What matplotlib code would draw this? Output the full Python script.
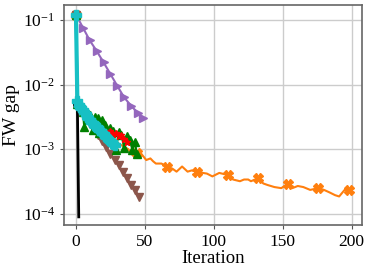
import matplotlib
matplotlib.use("Agg")
import matplotlib.pyplot as plt

# ---- data (iteration, FW gap) ----
black_x = [0, 1, 2]
black_y = [1.2e-1, 5.0e-3, 9.0e-5]

orange_x = [0, 1, 3, 6, 10, 14, 18, 22, 26, 30, 34, 38, 41, 44, 47, 51, 54, 56, 58, 62,
            66, 70, 73, 77, 81, 84, 88, 92, 95, 99, 104, 110, 114, 119, 122, 125, 127, 132,
            136, 139, 144, 149, 154, 157, 161, 165, 170, 176, 180, 184, 188, 191, 195, 198, 199]
orange_y = [1.2e-1, 5.0e-3, 4.0e-3, 3.2e-3, 2.6e-3, 2.3e-3, 2.0e-3, 1.8e-3, 1.6e-3, 1.26e-3,
            1.12e-3, 1.0e-3, 8.1e-4, 8.7e-4, 8.7e-4, 6.8e-4, 7.2e-4, 6.5e-4, 6.0e-4, 6.0e-4,
            5.4e-4, 5.0e-4, 4.5e-4, 5.4e-4, 4.5e-4, 4.7e-4, 4.5e-4, 4.3e-4, 4.2e-4, 3.8e-4,
            4.3e-4, 4.0e-4, 3.4e-4, 3.2e-4, 3.4e-4, 3.4e-4, 3.2e-4, 3.55e-4, 2.95e-4, 2.8e-4,
            2.6e-4, 2.5e-4, 2.95e-4, 2.5e-4, 2.7e-4, 2.6e-4, 2.35e-4, 2.5e-4, 2.35e-4, 2.15e-4,
            1.95e-4, 1.86e-4, 2.35e-4, 2.3e-4, 2.3e-4]
orange_marks = [0, 22, 44, 66, 88, 110, 132, 154, 176, 198]

green_x = [0, 1, 3, 5, 6, 8, 10, 12, 14, 16, 17, 19, 21, 23, 25, 27, 29, 31, 33, 35, 37, 39, 41, 43, 44]
green_y = [1.2e-1, 5.0e-3, 4.4e-3, 3.8e-3, 2.2e-3, 3.5e-3, 3.4e-3, 1.95e-3, 3.2e-3, 3.0e-3,
           1.8e-3, 2.8e-3, 2.4e-3, 1.5e-3, 2.1e-3, 1.9e-3, 9.8e-4, 1.85e-3, 1.65e-3, 1.05e-3,
           1.6e-3, 1.38e-3, 9.8e-4, 1.3e-3, 8.3e-4]

red_x = [0, 1, 3, 5, 7, 9, 11, 13, 15, 17, 19, 21, 23, 25, 27, 29, 31, 33, 35, 37]
red_y = [1.2e-1, 5.2e-3, 4.3e-3, 3.8e-3, 3.3e-3, 2.95e-3, 2.65e-3, 2.4e-3, 2.2e-3, 2.05e-3,
         1.9e-3, 1.8e-3, 1.75e-3, 1.9e-3, 1.7e-3, 1.8e-3, 1.6e-3, 1.65e-3, 1.45e-3, 1.3e-3]

brown_x = [0, 1, 4, 7, 10, 13, 16, 19, 22, 25, 28, 31, 34, 37, 40, 43, 46]
brown_y = [1.2e-1, 5.0e-3, 3.8e-3, 3.0e-3, 2.45e-3, 2.0e-3, 1.65e-3, 1.35e-3, 1.1e-3, 8.5e-4,
           6.8e-4, 5.6e-4, 4.4e-4, 3.6e-4, 2.8e-4, 2.3e-4, 1.85e-4]

purple_x = [0, 5, 10, 15, 20, 25, 30, 35, 40, 45, 49]
purple_y = [1.2e-1, 7.6e-2, 4.8e-2, 3.3e-2, 2.2e-2, 1.45e-2, 9.5e-3, 6.3e-3, 4.7e-3, 3.6e-3, 3.0e-3]

cyan_x = [0, 1, 2, 3, 4, 5, 6, 7, 8, 9, 10, 11, 12, 13, 14, 15, 16, 17, 18, 19, 20,
          21, 22, 23, 24, 25, 26, 27, 28]
cyan_y = [1.2e-1, 5.6e-3, 4.9e-3, 4.5e-3, 4.3e-3, 4.0e-3, 3.7e-3, 3.45e-3, 3.2e-3, 3.0e-3,
          2.8e-3, 2.65e-3, 2.5e-3, 2.4e-3, 2.3e-3, 2.2e-3, 2.1e-3, 1.98e-3, 1.88e-3, 1.78e-3,
          1.7e-3, 1.6e-3, 1.52e-3, 1.45e-3, 1.38e-3, 1.32e-3, 1.26e-3, 1.2e-3, 1.17e-3]

xticks = [0, 50, 100, 150, 200]
xlabel = "Iteration"
ylabel = "FW gap"

plt.rcParams['font.family'] = ['Liberation Serif', 'DejaVu Serif']
plt.rcParams['mathtext.fontset'] = 'stix'

fig = plt.figure(figsize=(3.71, 2.72), dpi=100)
ax = fig.add_axes([0.1725, 0.173, 0.804, 0.809])

ax.plot(orange_x, orange_y, color='#ff7f0e', lw=1.5, marker='X', ms=6.5,
        markevery=[i for i, x in enumerate(orange_x) if x in orange_marks], zorder=2)
ax.plot(purple_x, purple_y, color='#9467bd', lw=1.5, marker='>', ms=6,
        markevery=slice(1, None), zorder=3)
ax.plot(brown_x, brown_y, color='#8c564b', lw=1.5, marker='v', ms=5.5, zorder=3)
ax.plot(green_x, green_y, color='green', lw=1.5, marker='^', ms=6, zorder=4)
ax.plot(red_x, red_y, color='red', lw=1.5, marker='*', ms=5, zorder=5)
ax.plot(black_x, black_y, color='black', lw=2, marker='o', ms=5.5, markevery=[1], zorder=6)
ax.plot(cyan_x, cyan_y, color='#17c0c4', lw=3, marker='P', ms=7, zorder=7)

ax.set_yscale('log')
ax.set_xlim(-8.7, 207.8)
ax.set_ylim(6.75e-5, 0.17)
ax.set_xticks(xticks)
ax.set_xticklabels([str(t) for t in xticks])
ax.tick_params(labelsize=12.5, colors='#555555', labelcolor='black', length=3)
ax.tick_params(axis='y', which='minor', left=False)
ax.grid(True, which='major', color='#cccccc', lw=1)
ax.set_axisbelow(True)
for s in ax.spines.values():
    s.set_color('#666666')
    s.set_linewidth(1.2)
ax.set_xlabel(xlabel, fontsize=13.5, labelpad=0)
ax.set_ylabel(ylabel, fontsize=14, labelpad=2)

fig.savefig('out.png', dpi=100)
